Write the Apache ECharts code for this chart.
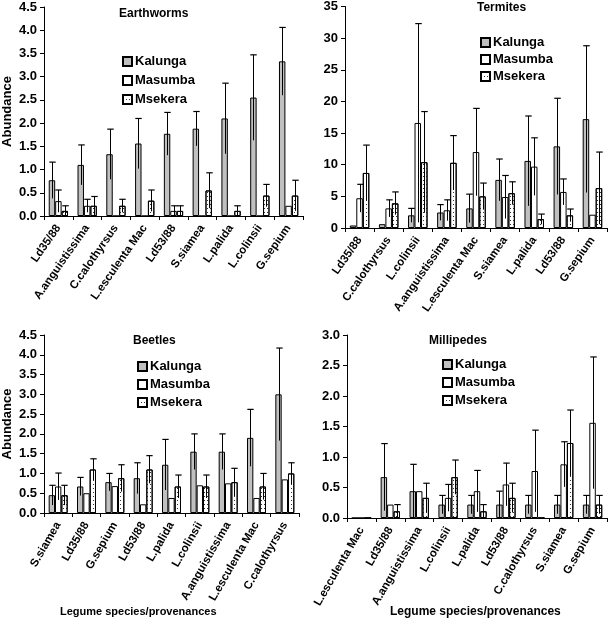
<!DOCTYPE html>
<html>
<head>
<meta charset="utf-8">
<script src="https://cdn.jsdelivr.net/npm/echarts@6/dist/echarts.min.js"></script>
<style>
  html, body { margin: 0; padding: 0; background: #fff; }
  #chart { width: 609px; height: 634px; }
</style>
</head>
<body>
<div id="chart"></div>
<script>
// Earthworms
const ewCats = ['Ld35/88', 'A.anguistissima', 'C.calothyrsus', 'L.esculenta Mac', 'Ld53/88', 'S.siamea', 'L.palida', 'L.colinsii', 'G.sepium'];
const ewKalunga = [0.77, 1.10, 1.33, 1.56, 1.77, 1.88, 2.10, 2.55, 3.33];
const ewKalungaErr = [0.39, 0.43, 0.54, 0.54, 0.46, 0.37, 0.76, 0.92, 0.73];
const ewMasumba = [0.32, 0.22, 0, 0, 0.11, 0, 0, 0, 0.22];
const ewMasumbaErr = [0.24, 0.14, 0, 0, 0.11, 0, 0, 0, 0];
const ewMsekera = [0.11, 0.22, 0.22, 0.33, 0.11, 0.55, 0.11, 0.44, 0.44];
const ewMsekeraErr = [0.11, 0.20, 0.14, 0.23, 0.11, 0.38, 0.11, 0.24, 0.33];

// Termites
const tmCats = ['Ld35/88', 'C.calothyrsus', 'L.colinsii', 'A.anguistissima', 'L.esculenta Mac', 'S.siamea', 'L.palida', 'Ld53/88', 'G.sepium'];
const tmKalunga = [0.4, 0.6, 2.0, 2.45, 3.1, 7.6, 10.6, 12.9, 17.2];
const tmKalungaErr = [0, 0, 1.1, 1.25, 2.25, 3.3, 7.1, 7.6, 11.6];
const tmMasumba = [4.7, 3.1, 16.6, 2.8, 12.0, 4.9, 9.7, 5.7, 2.1];
const tmMasumbaErr = [2.2, 1.35, 15.7, 1.65, 6.9, 3.4, 4.55, 2.05, 0];
const tmMsekera = [8.7, 3.9, 10.4, 10.3, 5.0, 5.5, 1.4, 2.0, 6.3];
const tmMsekeraErr = [4.4, 1.8, 8.0, 4.3, 2.1, 1.8, 0.8, 1.0, 5.7];

// Beetles
const btCats = ['S.siamea', 'Ld35/88', 'G.sepium', 'Ld53/88', 'L.palida', 'L.colinsii', 'A.anguistissima', 'L.esculenta Mac', 'C.calothyrsus'];
const btKalunga = [0.45, 0.67, 0.78, 0.88, 1.22, 1.55, 1.55, 1.9, 3.0];
const btKalungaErr = [0.25, 0.23, 0.22, 0.39, 0.64, 0.45, 0.45, 0.72, 1.17];
const btMasumba = [0.67, 0.5, 0.68, 0.22, 0.38, 0.7, 0.75, 0.38, 0.85];
const btMasumbaErr = [0.34, 0, 0, 0, 0, 0, 0, 0, 0];
const btMsekera = [0.45, 1.1, 0.88, 1.1, 0.67, 0.67, 0.78, 0.67, 1.0];
const btMsekeraErr = [0.25, 0.27, 0.34, 0.35, 0.29, 0.29, 0.35, 0.33, 0.27];

// Millipedes
const mpCats = ['L.esculenta Mac', 'Ld35/88', 'A.anguistissima', 'L.colinsii', 'L.palida', 'Ld53/88', 'C.calothyrsus', 'S.siamea', 'G.sepium'];
const mpKalunga = [0, 0.67, 0.44, 0.22, 0.22, 0.22, 0.22, 0.22, 0.22];
const mpKalungaErr = [0, 0.55, 0.44, 0.15, 0.15, 0.22, 0.15, 0.15, 0.15];
const mpMasumba = [0, 0.22, 0.44, 0.33, 0.44, 0.55, 0.77, 0.88, 1.56];
const mpMasumbaErr = [0, 0, 0, 0.22, 0.34, 0.35, 0.67, 0.37, 1.08];
const mpMsekera = [0, 0.11, 0.33, 0.67, 0.11, 0.33, 0, 1.23, 0.22];
const mpMsekeraErr = [0, 0.11, 0.24, 0.28, 0.11, 0.24, 0, 0.54, 0.15];

const seriesNames = ['Kalunga', 'Masumba', 'Msekera'];
const FONT = 'Liberation Sans, Arial, sans-serif';
const CAT_GAP = 0.33;

const panels = [
  { title: 'Earthworms', cats: ewCats, vals: [ewKalunga, ewMasumba, ewMsekera], errs: [ewKalungaErr, ewMasumbaErr, ewMsekeraErr],
    grid: { left: 42, top: 7, width: 261, height: 209 }, max: 4.5, interval: 0.5, dec: 1, rot: 55,
    titlePos: [114, 3], legendPos: [117, 50], legendGap: 6, yName: true },
  { title: 'Termites', cats: tmCats, vals: [tmKalunga, tmMasumba, tmMsekera], errs: [tmKalungaErr, tmMasumbaErr, tmMsekeraErr],
    grid: { left: 345, top: 6, width: 262, height: 222 }, max: 35, interval: 5, dec: 0, rot: 55,
    titlePos: [472, -3], legendPos: [475, 31], legendGap: 4, yName: false },
  { title: 'Beetles', cats: btCats, vals: [btKalunga, btMasumba, btMsekera], errs: [btKalungaErr, btMasumbaErr, btMsekeraErr],
    grid: { left: 43, top: 335, width: 256, height: 178 }, max: 4.5, interval: 0.5, dec: 1, rot: 60,
    titlePos: [128, 330], legendPos: [132, 355], legendGap: 5, yName: true },
  { title: 'Millipedes', cats: mpCats, vals: [mpKalunga, mpMasumba, mpMsekera], errs: [mpKalungaErr, mpMasumbaErr, mpMsekeraErr],
    grid: { left: 347, top: 335, width: 260, height: 183 }, max: 3.0, interval: 0.5, dec: 1, rot: 60,
    titlePos: [424, 330], legendPos: [437, 353], legendGap: 5, yName: false }
];

const xNames = [
  { text: 'Legume species/provenances', left: 60, top: 606, size: 11 },
  { text: 'Legume species/provenances', left: 390, top: 606, size: 12 }
];

const barStyles = [
  { color: '#c0c0c0', borderColor: '#000', borderWidth: 1 },
  { color: '#ffffff', borderColor: '#000', borderWidth: 1 },
  { color: '#ffffff', borderColor: '#000', borderWidth: 1,
    decal: { symbol: 'rect', symbolSize: 1, color: '#333', dashArrayX: [1, 2], dashArrayY: [1, 3] } }
];

function errItem(params, api) {
  const cat = api.value(0), j = api.value(1), v = api.value(2), e = api.value(3);
  if (!e) return;
  const band = api.size([1, 0])[0];
  const bw = band * (1 - CAT_GAP) / 3;
  const x = Math.round(api.coord([cat, v])[0] + (j - 1) * bw) + 0.5;
  const top = api.coord([cat, v + e])[1];
  const bot = api.coord([cat, Math.max(0, v - e)])[1];
  return {
    type: 'group',
    children: [
      { type: 'line', shape: { x1: x, y1: bot, x2: x, y2: top }, style: { stroke: '#000', lineWidth: 1 } },
      { type: 'line', shape: { x1: x - bw / 2, y1: top, x2: x + bw / 2, y2: top }, style: { stroke: '#000', lineWidth: 1.2 } }
    ]
  };
}

const grid = [], xAxis = [], yAxis = [], series = [], legend = [], title = [];

panels.forEach((p, i) => {
  grid.push(p.grid);
  xAxis.push({
    type: 'category', gridIndex: i, data: p.cats,
    axisLine: { lineStyle: { color: '#000', width: 1 } },
    axisTick: { show: true, alignWithLabel: false, length: 4, lineStyle: { color: '#000' } },
    axisLabel: { rotate: p.rot, interval: 0, margin: 10, color: '#000', fontFamily: FONT, fontSize: 11.5, fontWeight: 'bold' }
  });
  yAxis.push({
    type: 'value', gridIndex: i, min: 0, max: p.max, interval: p.interval,
    splitLine: { show: false },
    axisLine: { show: true, lineStyle: { color: '#000', width: 1 } },
    axisTick: { show: true, length: 4, lineStyle: { color: '#000' } },
    axisLabel: { color: '#000', fontFamily: FONT, fontSize: 13, fontWeight: 'bold', margin: 7,
      formatter: v => v.toFixed(p.dec) },
    name: p.yName ? 'Abundance' : '',
    nameLocation: 'middle', nameGap: 30,
    nameTextStyle: { color: '#000', fontFamily: FONT, fontSize: 13, fontWeight: 'bold' }
  });
  const errData = [];
  seriesNames.forEach((name, j) => {
    series.push({
      name: name, type: 'bar', xAxisIndex: i, yAxisIndex: i,
      data: p.vals[j], barGap: '0%', barCategoryGap: (CAT_GAP * 100) + '%',
      itemStyle: barStyles[j], animation: false
    });
    p.vals[j].forEach((v, k) => errData.push([k, j, v, p.errs[j][k]]));
  });
  series.push({
    type: 'custom', xAxisIndex: i, yAxisIndex: i, renderItem: errItem,
    data: errData, encode: { x: 0, y: 2 }, z: 5, silent: true, animation: false
  });
  legend.push({
    data: seriesNames, orient: 'vertical', left: p.legendPos[0], top: p.legendPos[1],
    icon: 'rect', itemWidth: 9, itemHeight: 9, itemGap: p.legendGap, selectedMode: false,
    textStyle: { color: '#000', fontFamily: FONT, fontSize: 13, fontWeight: 'bold', padding: [0, 0, 0, -2] }
  });
  title.push({
    text: p.title, left: p.titlePos[0], top: p.titlePos[1],
    textStyle: { color: '#000', fontFamily: FONT, fontSize: 12, fontWeight: 'bold' }
  });
});

xNames.forEach(n => title.push({
  text: n.text, left: n.left, top: n.top, padding: 0,
  textStyle: { color: '#000', fontFamily: FONT, fontSize: n.size, fontWeight: 'bold' }
}));

const chart = echarts.init(document.getElementById('chart'), null, { renderer: 'canvas' });
chart.setOption({
  backgroundColor: '#fff',
  animation: false,
  title: title,
  legend: legend,
  grid: grid,
  xAxis: xAxis,
  yAxis: yAxis,
  series: series
});
</script>
</body>
</html>
